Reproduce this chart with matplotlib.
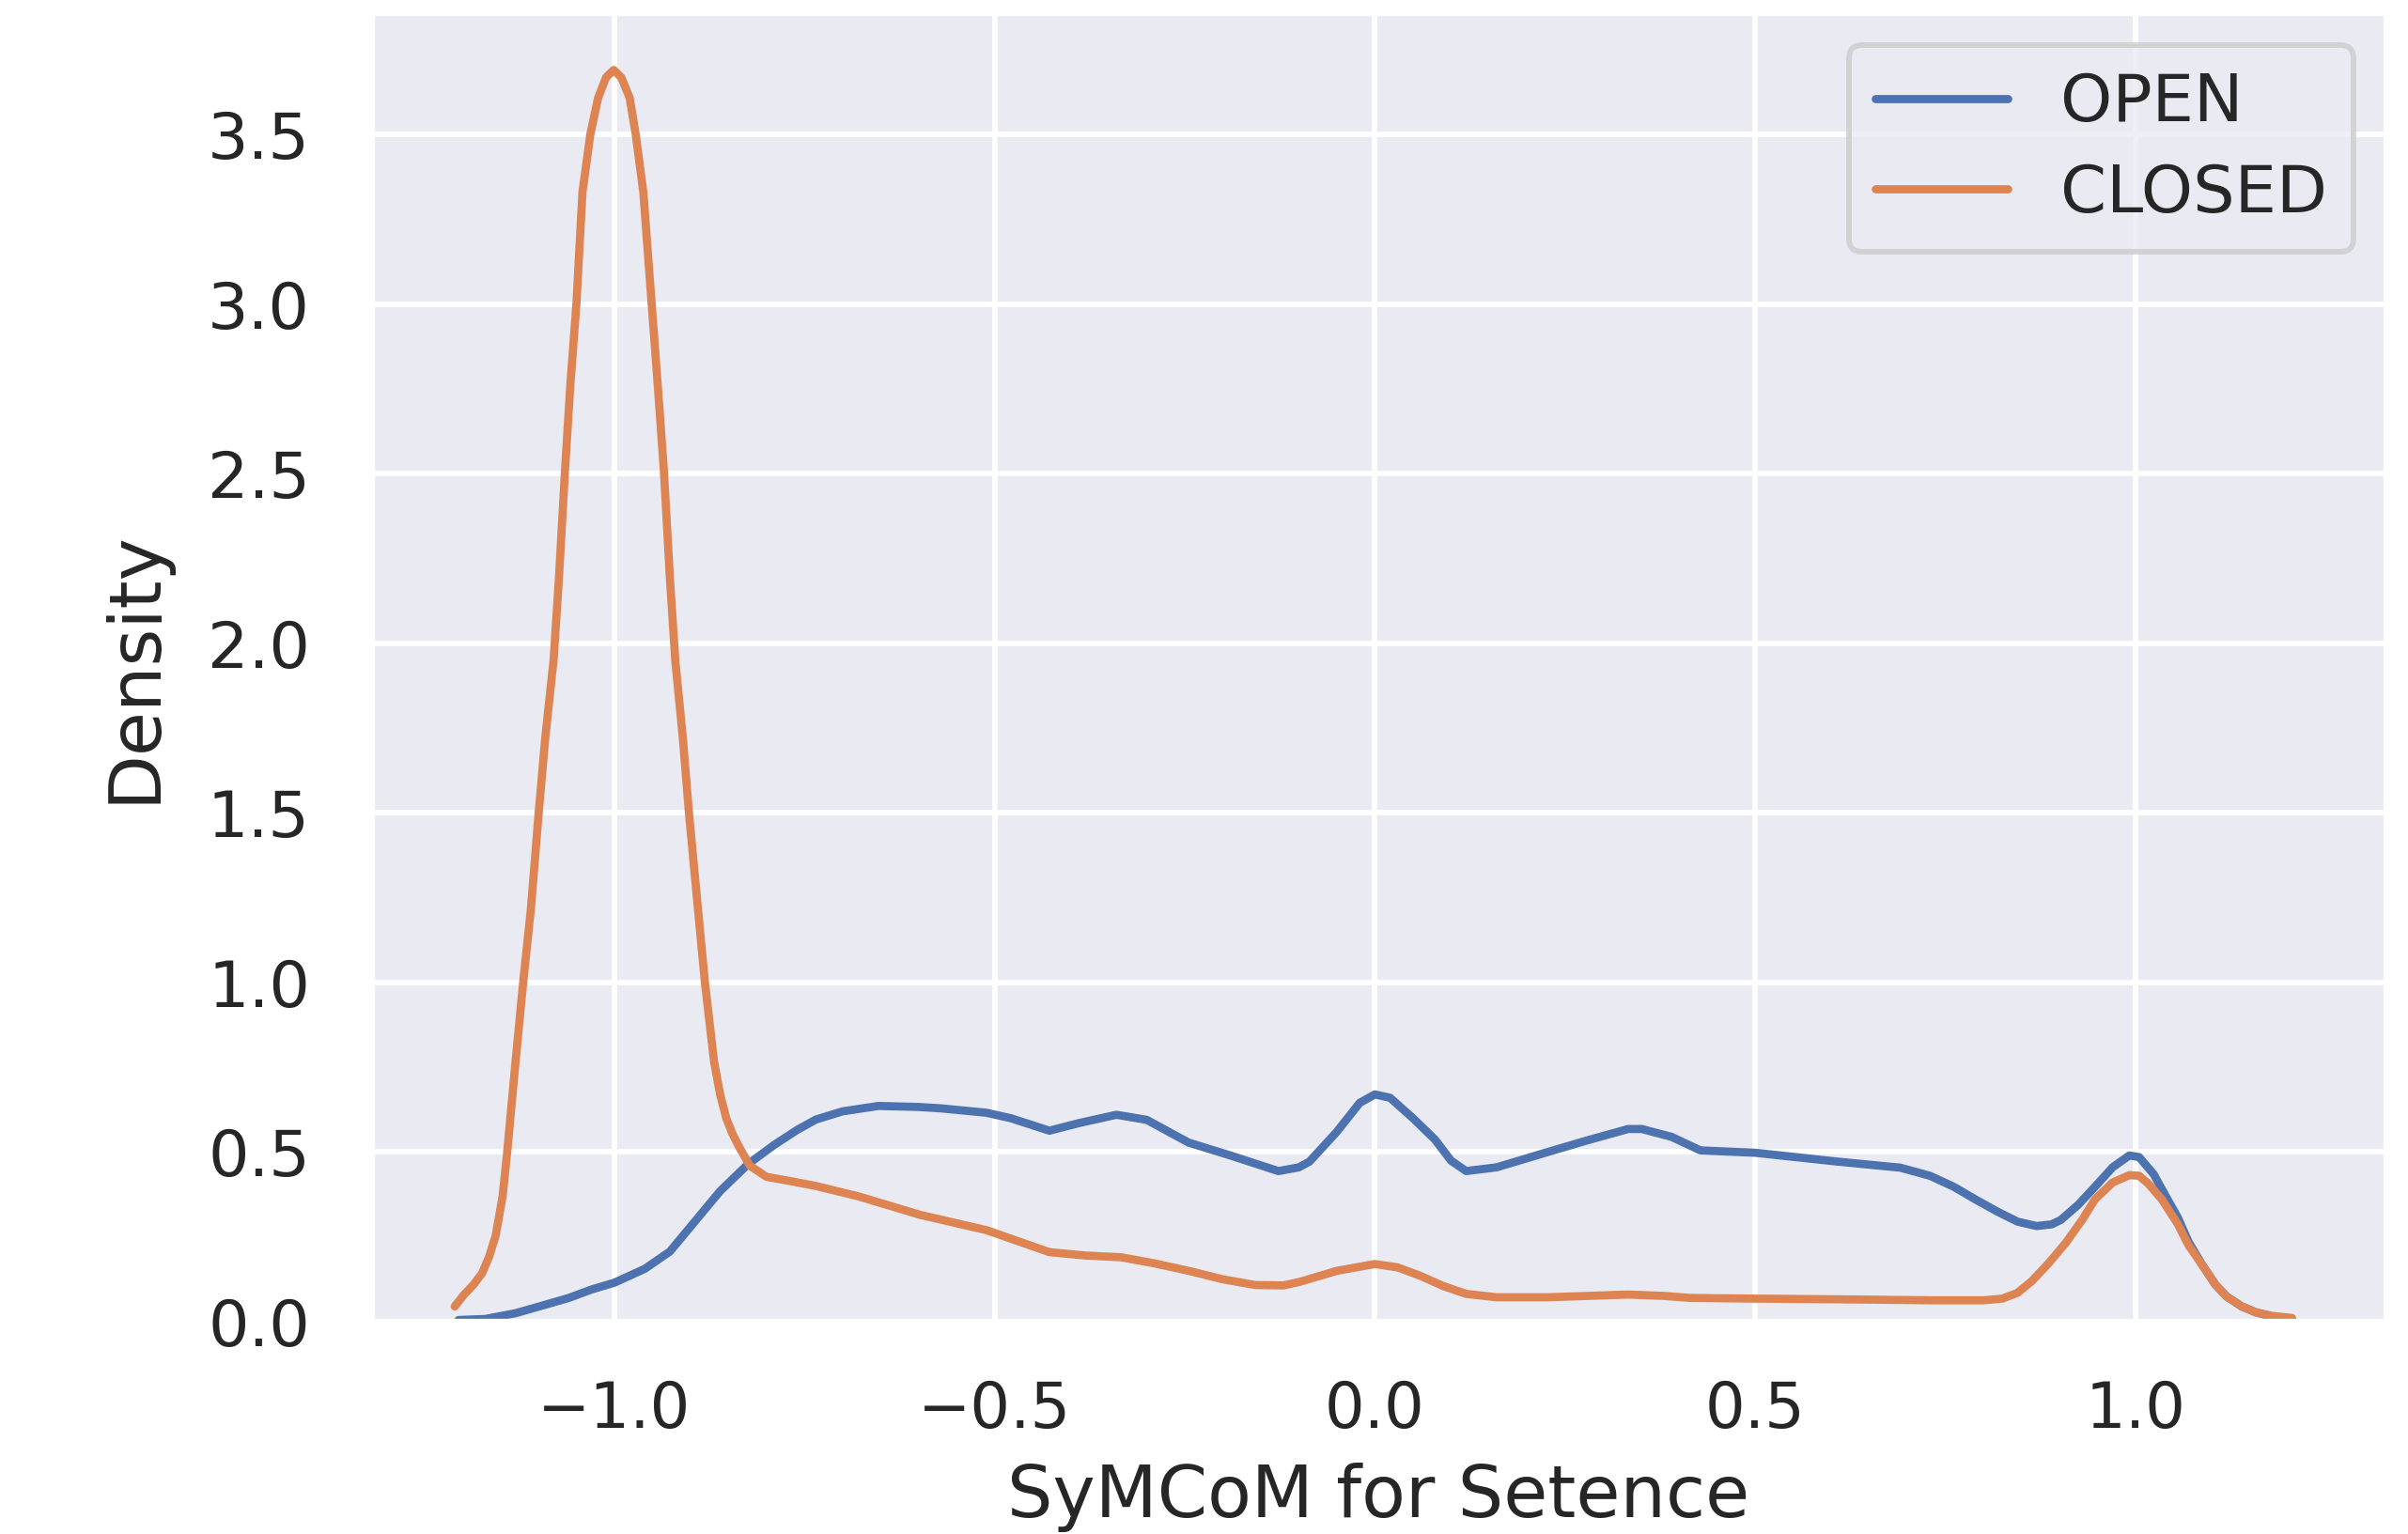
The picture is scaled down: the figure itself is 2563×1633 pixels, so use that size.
import matplotlib
matplotlib.use("Agg")
import matplotlib.pyplot as plt
import seaborn as sns

# curvas KDE (x, densidad)
open_x = [-1.205, -1.17, -1.13, -1.091, -1.06, -1.03, -1.0, -0.96, -0.927, -0.894,
          -0.861, -0.824, -0.79, -0.76, -0.735, -0.70, -0.653, -0.60, -0.571, -0.511,
          -0.479, -0.428, -0.39, -0.34, -0.30, -0.245, -0.19, -0.127, -0.10, -0.086,
          -0.05, -0.02, 0.0, 0.02, 0.05, 0.079, 0.10, 0.12, 0.16, 0.227,
          0.28, 0.333, 0.351, 0.39, 0.428, 0.5, 0.608, 0.691, 0.73, 0.761,
          0.79, 0.819, 0.845, 0.87, 0.89, 0.902, 0.925, 0.947, 0.97, 0.992,
          1.005, 1.024, 1.04, 1.056, 1.07, 1.088, 1.105, 1.12, 1.14, 1.158,
          1.18, 1.206]
open_y = [0.005, 0.008, 0.025, 0.05, 0.07, 0.095, 0.115, 0.156, 0.207, 0.296,
          0.385, 0.465, 0.521, 0.565, 0.596, 0.62, 0.636, 0.633, 0.629, 0.616,
          0.60, 0.563, 0.585, 0.61, 0.595, 0.528, 0.49, 0.444, 0.455, 0.472,
          0.56, 0.645, 0.67, 0.66, 0.60, 0.537, 0.475, 0.444, 0.455, 0.50,
          0.535, 0.568, 0.568, 0.545, 0.505, 0.498, 0.472, 0.454, 0.43, 0.398,
          0.36, 0.324, 0.295, 0.282, 0.287, 0.30, 0.345, 0.398, 0.455, 0.49,
          0.485, 0.435, 0.37, 0.306, 0.235, 0.167, 0.11, 0.074, 0.045, 0.028,
          0.015, 0.008]

closed_x = [-1.21, -1.198, -1.185, -1.174, -1.165, -1.156, -1.147, -1.141, -1.13, -1.12,
            -1.11, -1.0996, -1.091, -1.08, -1.073, -1.065, -1.058, -1.05, -1.042, -1.0317,
            -1.0214, -1.011, -1.001, -0.991, -0.98, -0.972, -0.962, -0.951, -0.943, -0.935,
            -0.927, -0.92, -0.91, -0.902, -0.89, -0.881, -0.869, -0.861, -0.853, -0.845,
            -0.836, -0.822, -0.80, -0.77, -0.735, -0.68, -0.598, -0.511, -0.479, -0.428,
            -0.38, -0.334, -0.29, -0.245, -0.20, -0.157, -0.12, -0.098, -0.05, 0.0,
            0.03, 0.06, 0.09, 0.12, 0.16, 0.227, 0.28, 0.333, 0.38, 0.415,
            0.5, 0.608, 0.736, 0.80, 0.825, 0.845, 0.864, 0.885, 0.908, 0.93,
            0.947, 0.97, 0.992, 1.005, 1.017, 1.035, 1.056, 1.07, 1.088, 1.105,
            1.12, 1.14, 1.158, 1.18, 1.206]
closed_y = [0.045, 0.079, 0.11, 0.143, 0.19, 0.255, 0.37, 0.50, 0.767, 1.0,
            1.213, 1.5, 1.72, 1.95, 2.19, 2.51, 2.76, 3.0, 3.33, 3.5,
            3.608, 3.668, 3.69, 3.668, 3.608, 3.5, 3.33, 3.0, 2.76, 2.51,
            2.19, 1.95, 1.72, 1.5, 1.213, 1.0, 0.767, 0.67, 0.60, 0.555,
            0.515, 0.46, 0.427, 0.415, 0.40, 0.37, 0.315, 0.27, 0.245, 0.205,
            0.195, 0.19, 0.172, 0.15, 0.125, 0.108, 0.107, 0.118, 0.15, 0.17,
            0.16, 0.135, 0.105, 0.082, 0.072, 0.072, 0.076, 0.08, 0.076, 0.07,
            0.068, 0.066, 0.063, 0.063, 0.068, 0.085, 0.12, 0.17, 0.231, 0.30,
            0.361, 0.41, 0.432, 0.43, 0.407, 0.36, 0.287, 0.225, 0.167, 0.11,
            0.074, 0.045, 0.028, 0.017, 0.011]

series_labels = ["OPEN", "CLOSED"]

sns.set_theme(style="darkgrid")
colors = sns.color_palette("deep")

dpi = 418
fig = plt.figure(figsize=(2563 / dpi, 1633 / dpi), dpi=dpi)
ax = fig.add_axes([0.1541, 0.1384, 0.991 - 0.1541, 0.992 - 0.1384])

ax.plot(open_x, open_y, color=colors[0], label=series_labels[0])
ax.plot(closed_x, closed_y, color=colors[1], label=series_labels[1])

ax.set_xlim(-1.32, 1.33)
ax.set_ylim(0, 3.86)
ax.set_xlabel("SyMCoM for Setence", fontsize=13.2)
ax.set_ylabel("Density", fontsize=13.2, labelpad=7)
ax.tick_params(axis="x", labelsize=11.6, pad=4.5)
ax.tick_params(axis="y", labelsize=11.8, pad=5.2)
ax.legend(loc="upper right", fontsize=12.1, labelspacing=0.42)

fig.savefig("out.png", dpi=dpi)
